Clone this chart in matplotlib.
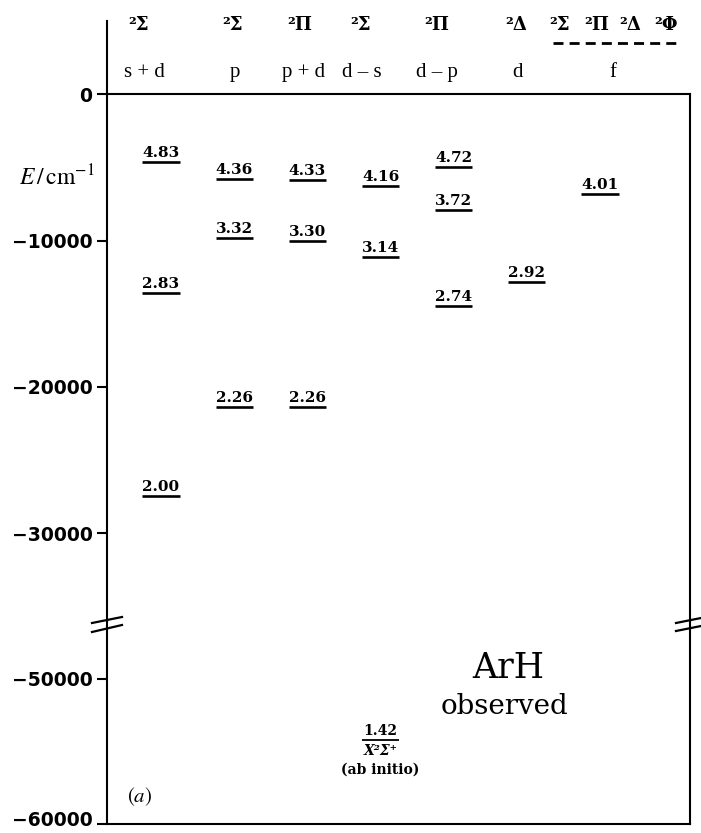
import matplotlib
matplotlib.use('Agg')
import matplotlib.pyplot as plt
import matplotlib.transforms as mtransforms
from matplotlib.lines import Line2D

# ---------------- data ----------------
configs = ['s + d', 'p', 'p + d', 'd – s', 'd – p', 'd', 'f']
terms = ['²Σ', '²Σ', '²Π', '²Σ', '²Π', '²Δ']
f_terms = ['²Σ', '²Π', '²Δ', '²Φ']

level_col = [0, 0, 0, 1, 1, 1, 2, 2, 2, 3, 3, 4, 4, 4, 5, 6]
level_E = [-4640, -13580, -27440,
           -5800, -9830, -21370,
           -5870, -10030, -21370,
           -6280, -11130,
           -4980, -7920, -14470,
           -12830,
           -6830]
level_lab = ['4.83', '2.83', '2.00',
             '4.36', '3.32', '2.26',
             '4.33', '3.30', '2.26',
             '4.16', '3.14',
             '4.72', '3.72', '2.74',
             '2.92',
             '4.01']

ground_col = 3
ground_E = -54200
ground_lab = '1.42'

upper_ticks = [0, -10000, -20000, -30000]
lower_ticks = [-50000, -60000]

# ---------------- layout helpers ----------------
W, H = 701, 833
def fx(px):
    return px / W
def fy(py):
    return 1 - py / H

fig = plt.figure(figsize=(W / 100, H / 100), dpi=100)
L, R = 107, 690
ax1 = fig.add_axes([fx(L), fy(621), fx(R) - fx(L), fy(21) - fy(621)])
ax2 = fig.add_axes([fx(L), fy(823.5), fx(R) - fx(L), fy(621) - fy(823.5)])

XLIM = (-0.738, 7.23)
ax1.set_xlim(*XLIM)
ax2.set_xlim(*XLIM)
ax1.set_ylim(-36000, 5000)
ax2.set_ylim(-60000, -46000)

SPW = 1.5
for ax in (ax1, ax2):
    ax.set_xticks([])
    for s in ax.spines.values():
        s.set_linewidth(SPW)
    ax.tick_params(axis='y', direction='out', length=7, width=SPW, pad=3.5)
    ax.patch.set_visible(False)

for s in ('top', 'right', 'bottom'):
    ax1.spines[s].set_visible(False)
ax2.spines['top'].set_visible(False)

def fmt(v):
    return str(v).replace('-', '\u2212')

tick_font = dict(family='DejaVu Sans', weight='bold', size=13.5)
ax1.set_yticks(upper_ticks)
ax1.set_yticklabels([fmt(v) for v in upper_ticks], fontdict=tick_font)
ax2.set_yticks(lower_ticks)
labs2 = ax2.set_yticklabels([fmt(v) for v in lower_ticks], fontdict=tick_font)
# keep the bottom-most label inside the canvas
lift = mtransforms.ScaledTranslation(0, 3.5 / 72, fig.dpi_scale_trans)
labs2[-1].set_transform(labs2[-1].get_transform() + lift)

# zero line and right border of upper part
ax1.axhline(0, color='black', lw=SPW, clip_on=False)
ax1.plot([1, 1], [-36000, 0], transform=ax1.get_yaxis_transform(),
         color='black', lw=SPW, clip_on=False, solid_capstyle='projecting')

# ---------------- levels ----------------
HW = 0.253
num_font = dict(family='DejaVu Serif', weight='bold', size=11)
for c, e, lab in zip(level_col, level_E, level_lab):
    ax1.hlines(e, c - HW, c + HW, color='black', lw=1.9)
    ax1.annotate(lab, (c, e), xytext=(0, 3.6), textcoords='offset points',
                 ha='center', va='baseline', **num_font)

ax2.hlines(ground_E, ground_col - HW, ground_col + HW, color='black', lw=1.3)
ax2.annotate(ground_lab, (ground_col, ground_E), xytext=(0, 3.0),
             textcoords='offset points', ha='center', va='baseline',
             family='DejaVu Serif', weight='bold', size=10)
ax2.annotate('X²Σ⁺', (ground_col, ground_E), xytext=(0, -8),
             textcoords='offset points', ha='center', va='center',
             family='DejaVu Serif', weight='bold', style='italic', size=10)
ax2.annotate('(ab initio)', (ground_col, ground_E), xytext=(0, -21.5),
             textcoords='offset points', ha='center', va='center',
             family='DejaVu Serif', weight='bold', size=10)

# ---------------- headers ----------------
term_x = [-0.31, 0.98, 1.90, 2.73, 3.77, 4.85]
f_term_x = [5.45, 5.95, 6.41, 6.90]
conf_x = [-0.23, 1.01, 1.95, 2.75, 3.77, 4.87, 6.18]
term_font = dict(family='DejaVu Serif', weight='bold', size=13)
for x, t in zip(term_x + f_term_x, terms + f_terms):
    ax1.text(x, 4700, t, ha='center', va='center', **term_font)
for x, t in zip(conf_x, configs):
    ax1.text(x, 1500, t, ha='center', va='center',
             family='Liberation Serif', size=15)
ax1.plot([5.36, 7.07], [3500, 3500], color='black', lw=2.0,
         dashes=(3.6, 2.2), clip_on=False)

# y label
ax1.text(-0.0858, -5670, r'$E\,/\,\mathrm{cm}^{-1}$',
         transform=ax1.get_yaxis_transform(), ha='center', va='center',
         size=17, math_fontfamily='stix')

# annotations
ax2.text(4.74, -49240, 'ArH', ha='center', va='center',
         family='DejaVu Serif', size=25)
ax2.text(4.70, -51930, 'observed', ha='center', va='center',
         family='DejaVu Serif', size=20)
ax2.text(-0.29, -58115, r'$(a)$', ha='center', va='center', size=15,
         math_fontfamily='stix')

# break marks
for (x0, y0, x1, y1) in [(92, 623, 122, 617), (92, 632, 122, 625),
                         (676, 623, 701, 618), (676, 631, 701, 626)]:
    fig.add_artist(Line2D([fx(x0), fx(x1)], [fy(y0), fy(y1)],
                          transform=fig.transFigure, color='black', lw=1.6))

fig.savefig('out.png', dpi=100)
